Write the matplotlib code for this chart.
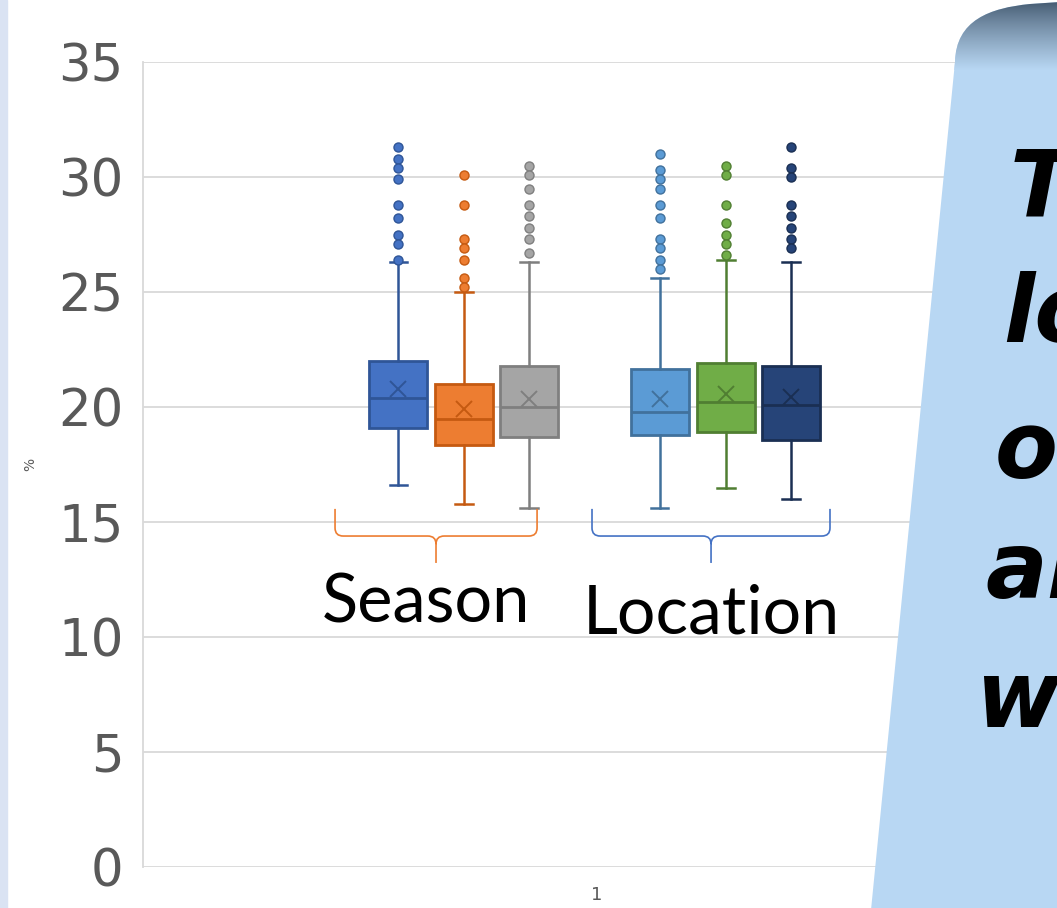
import matplotlib.pyplot as plt
import numpy as np
from matplotlib.path import Path
from matplotlib.patches import PathPatch, Rectangle
from matplotlib.colors import to_rgb

# ----------------------------------------------------------------
# box statistics (%)
groups = ['Season 1', 'Season 2', 'Season 3', 'Location 1', 'Location 2', 'Location 3']
q1 = [19.1, 18.35, 18.7, 18.8, 18.9, 18.55]
med = [20.4, 19.5, 20.0, 19.8, 20.2, 20.1]
q3 = [22.0, 21.0, 21.8, 21.65, 21.9, 21.8]
means = [20.8, 19.9, 20.35, 20.35, 20.55, 20.45]
whislo = [16.6, 15.8, 15.6, 15.6, 16.5, 16.0]
whishi = [26.3, 25.0, 26.3, 25.6, 26.4, 26.3]
fliers = [
    [31.3, 30.8, 30.4, 29.9, 28.8, 28.2, 27.5, 27.1, 26.4],
    [30.1, 28.8, 27.3, 26.9, 26.4, 25.6, 25.2],
    [30.5, 30.1, 29.5, 28.8, 28.3, 27.8, 27.3, 26.7],
    [31.0, 30.3, 29.9, 29.5, 28.8, 28.2, 27.3, 26.9, 26.4, 26.0],
    [30.5, 30.1, 28.8, 28.0, 27.5, 27.1, 26.6],
    [31.3, 30.4, 30.0, 28.8, 28.3, 27.8, 27.3, 26.9],
]
yticks = [0, 5, 10, 15, 20, 25, 30, 35]
xtick_label = '1'

fills = ['#4472C4', '#ED7D31', '#A5A5A5', '#5B9BD5', '#70AD47', '#264478']
edges = ['#2F5597', '#C55A11', '#7F7F7F', '#41719C', '#507E32', '#1A2F53']
positions = [0.781, 0.8535, 0.925, 1.069, 1.142, 1.2137]

# ----------------------------------------------------------------
fig = plt.figure(figsize=(10.57, 9.08), dpi=100)
ax = fig.add_axes([143/1057, 41/908, 908/1057, 805/908])

stats = []
for i in range(len(groups)):
    stats.append(dict(label=groups[i], q1=q1[i], med=med[i], q3=q3[i], mean=means[i],
                      whislo=whislo[i], whishi=whishi[i], fliers=fliers[i]))

bp = ax.bxp(stats, positions=positions, widths=0.064, capwidths=0.019,
            patch_artist=True, showmeans=True, manage_ticks=False, zorder=3)

for i in range(len(groups)):
    bp['boxes'][i].set(facecolor=fills[i], edgecolor=edges[i], linewidth=2)
    bp['medians'][i].set(color=edges[i], linewidth=2)
    bp['means'][i].set(marker='x', markeredgecolor=edges[i], markersize=12, markeredgewidth=1.4)
    bp['fliers'][i].set(marker='o', markerfacecolor=fills[i], markeredgecolor=edges[i],
                        markersize=6.5, markeredgewidth=1)
    for w in bp['whiskers'][2*i:2*i+2]:
        w.set(color=edges[i], linewidth=1.8)
    for c in bp['caps'][2*i:2*i+2]:
        c.set(color=edges[i], linewidth=1.8)

ax.set_xlim(0.5, 1.5)
ax.set_ylim(0, 35)
ax.set_yticks(yticks)
ax.set_yticklabels([str(t) for t in yticks], fontsize=37, color='#595959')
ax.set_xticks([1])
ax.set_xticklabels([xtick_label], fontsize=13, color='#595959')
ax.tick_params(axis='y', length=0, pad=14)
ax.tick_params(axis='x', length=0, pad=14)
ax.set_ylabel('%', fontsize=10, color='#595959')
ax.yaxis.set_label_coords(-0.117, 0.5)
ax.grid(axis='y', color='#D9D9D9', linewidth=1.3, zorder=0)
ax.set_axisbelow(True)
for s in ['top', 'right', 'bottom']:
    ax.spines[s].set_visible(False)
ax.spines['left'].set_color('#D9D9D9')
ax.spines['left'].set_linewidth(1.3)


# curly braces under the two groups
def brace(x0, x1, xm, ytop, ymid, ytip, color):
    r = 0.009
    d = 0.35
    verts = [(x0, ytop), (x0, ymid + d), (x0, ymid), (x0 + r, ymid),
             (xm - r, ymid), (xm, ymid), (xm, ymid - d), (xm, ytip),
             (xm, ymid - d), (xm, ymid), (xm + r, ymid),
             (x1 - r, ymid), (x1, ymid), (x1, ymid + d), (x1, ytop)]
    codes = [Path.MOVETO, Path.LINETO, Path.CURVE3, Path.CURVE3,
             Path.LINETO, Path.CURVE3, Path.CURVE3, Path.LINETO,
             Path.MOVETO, Path.CURVE3, Path.CURVE3,
             Path.LINETO, Path.CURVE3, Path.CURVE3, Path.LINETO]
    ax.add_patch(PathPatch(Path(verts, codes), facecolor='none', edgecolor=color,
                           linewidth=1.2, zorder=4))

brace(0.7115, 0.934, 0.8227, 15.57, 14.39, 13.22, '#ED7D31')
brace(0.9945, 1.2566, 1.1256, 15.57, 14.39, 13.22, '#4472C4')

ax.text(0.8117, 10.61, 'Season', fontsize=48, family='Lato', ha='center', va='baseline')
ax.text(1.1256, 10.17, 'Location', fontsize=49, family='Lato', ha='center', va='baseline')

# ----------------------------------------------------------------
# overlay in pixel coordinates: left strip and the callout on the right
ov = fig.add_axes([0, 0, 1, 1], zorder=10)
ov.axis('off')
ov.patch.set_visible(False)

ov.add_patch(Rectangle((0, 0), 7, 908, color='#DAE3F3'))

body = '#B8D7F3'
verts = [(871, 910), (955, 62), (956, 20), (990, 8), (1030, 4),
         (1060, 2), (1060, 910), (871, 910)]
codes = [Path.MOVETO, Path.LINETO, Path.CURVE4, Path.CURVE4, Path.CURVE4,
         Path.LINETO, Path.LINETO, Path.CLOSEPOLY]
callout = PathPatch(Path(verts, codes), facecolor=body, edgecolor='none', zorder=1)
ov.add_patch(callout)

top_c = np.array(to_rgb('#3F546A'))
bot_c = np.array(to_rgb(body))
t = np.linspace(0, 1, 80)[:, None] ** 0.8
grad = (top_c * (1 - t) + bot_c * t)[:, None, :]
im = ov.imshow(grad, extent=(850, 1060, 70, 0), aspect='auto',
               interpolation='bilinear', zorder=2)
im.set_clip_path(callout)

ov.set_xlim(0, 1057)
ov.set_ylim(908, 0)

lines = ['Th', 'lo', 'of', 'ar', 'wa']
xs = [1010, 1003, 995, 985, 975]
ys = [215, 342, 478, 598, 727]
for s, x, y in zip(lines, xs, ys):
    ov.text(x, y, s, fontsize=66, fontweight='bold', style='italic',
            family='DejaVu Sans', ha='left', va='baseline', color='black', zorder=3)

fig.savefig('out.png', dpi=100)
